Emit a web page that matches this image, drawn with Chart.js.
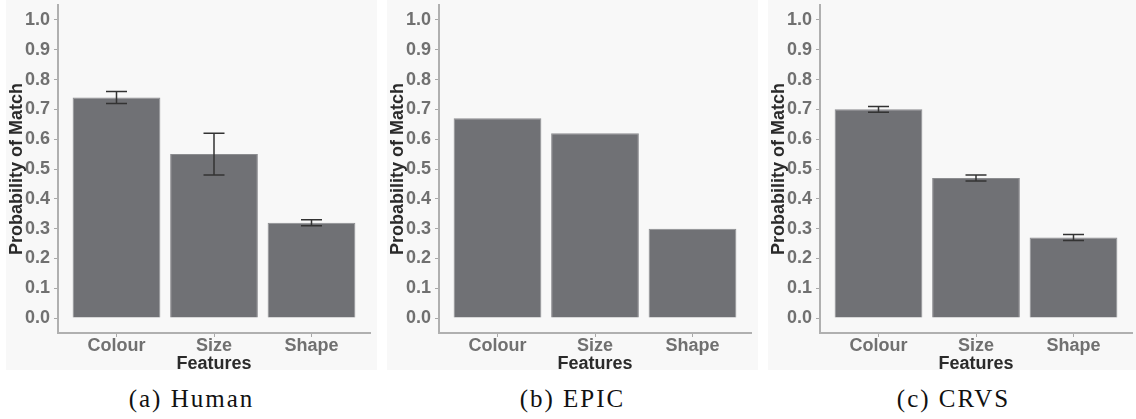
<!DOCTYPE html>
<html>
<head>
<meta charset="utf-8">
<script src="https://cdn.jsdelivr.net/npm/chart.js@4/dist/chart.umd.min.js"></script>
<style>
  body { margin: 0; background: #fff; width: 1136px; height: 419px; overflow: hidden; }
  .panel { position: absolute; top: 0; width: 371px; height: 370px; background: #f8f8f8; }
  .panel canvas { position: absolute; left: 0; top: 0; }
  .caption { position: absolute; top: 385px; width: 371px; text-align: center;
             font-family: "Liberation Serif", serif; font-size: 25px; color: #111; letter-spacing: 2px; }
</style>
</head>
<body>
<div class="panel" style="left:6px"><canvas id="chartHuman" width="371" height="375"></canvas></div>
<div class="panel" style="left:387px"><canvas id="chartEpic" width="371" height="375"></canvas></div>
<div class="panel" style="left:768px"><canvas id="chartCrvs" width="371" height="375"></canvas></div>
<div class="caption" style="left:6px">(a) Human</div>
<div class="caption" style="left:387px">(b) EPIC</div>
<div class="caption" style="left:768px">(c) CRVS</div>

<script>
const features = ['Colour', 'Size', 'Shape'];
const yTicks = [0.0, 0.1, 0.2, 0.3, 0.4, 0.5, 0.6, 0.7, 0.8, 0.9, 1.0];

const humanMean = [0.74, 0.55, 0.32];
const humanLow  = [0.72, 0.48, 0.31];
const humanHigh = [0.76, 0.62, 0.33];

const epicMean = [0.67, 0.62, 0.30];

const crvsMean = [0.70, 0.47, 0.27];
const crvsLow  = [0.69, 0.46, 0.26];
const crvsHigh = [0.71, 0.48, 0.28];

// whiskers with caps, drawn on top of the bars
const errorBars = {
    id: 'errorBars',
    afterDatasetsDraw(chart, args, opts) {
        if (!opts.lower) return;
        const x = chart.scales.x, y = chart.scales.y;
        const ctx = chart.ctx;
        ctx.save();
        ctx.strokeStyle = opts.color;
        ctx.lineWidth = 1.5;
        opts.lower.forEach((lo, i) => {
            const hi = opts.upper[i];
            const px = x.getPixelForValue(i);
            const yLo = y.getPixelForValue(lo), yHi = y.getPixelForValue(hi);
            const half = opts.capWidth / 2;
            ctx.beginPath();
            ctx.moveTo(px, yLo); ctx.lineTo(px, yHi);
            ctx.moveTo(px - half, yLo); ctx.lineTo(px + half, yLo);
            ctx.moveTo(px - half, yHi); ctx.lineTo(px + half, yHi);
            ctx.stroke();
        });
        ctx.restore();
    }
};

const tickFont = { family: '"Liberation Sans", Arial, sans-serif', size: 18, weight: 'bold' };
const titleFont = { family: '"Liberation Sans", Arial, sans-serif', size: 18, weight: 'bold' };

// drop the room Chart.js reserves for edge labels so the plot box stays fixed
function noEdgePadding(s) {
    s.paddingTop = 0; s.paddingBottom = 0;
    s.paddingLeft = 0; s.paddingRight = 0;
}

function makeChart(id, means, low, high) {
    new Chart(document.getElementById(id), {
        type: 'bar',
        data: {
            datasets: [{
                data: means.map((v, i) => ({ x: i, y: v })),
                backgroundColor: '#707175',
                borderColor: '#8c8d90',
                borderWidth: 1,
                categoryPercentage: 1.0,
                barPercentage: 0.9
            }]
        },
        plugins: [errorBars],
        options: {
            responsive: false,
            animation: false,
            layout: { padding: { top: 5, right: 7, left: 0, bottom: 0 } },
            scales: {
                x: {
                    type: 'linear',
                    offset: false,
                    min: -0.6,
                    max: 2.6,
                    afterBuildTicks: s => { s.ticks = features.map((f, i) => ({ value: i })); },
                    afterFit: s => { s.height = 42; noEdgePadding(s); },
                    ticks: {
                        callback: v => features[v],
                        font: tickFont,
                        color: '#707070',
                        padding: -2,
                        autoSkip: false,
                        maxRotation: 0
                    },
                    grid: { display: true, offset: false, drawOnChartArea: false, tickLength: 4, color: '#a8a8a8' },
                    border: { display: true, color: '#b0b0b0', width: 2 },
                    title: { display: true, text: 'Features', font: titleFont, color: '#2a2a2a', padding: 0 }
                },
                y: {
                    min: -0.05,
                    max: 1.05,
                    afterBuildTicks: s => { s.ticks = yTicks.map(v => ({ value: v })); },
                    afterFit: s => { s.width = 52; noEdgePadding(s); },
                    ticks: {
                        callback: v => v.toFixed(1),
                        font: tickFont,
                        color: '#707070',
                        padding: 4
                    },
                    grid: { display: true, drawOnChartArea: false, tickLength: 4, color: '#a8a8a8' },
                    border: { display: true, color: '#b0b0b0', width: 2 },
                    title: { display: true, text: 'Probability of Match', font: titleFont, color: '#2a2a2a', padding: 0 }
                }
            },
            plugins: {
                legend: { display: false },
                tooltip: { enabled: false },
                errorBars: low ? { lower: low, upper: high, capWidth: 21, color: '#333333' } : {}
            }
        }
    });
}

makeChart('chartHuman', humanMean, humanLow, humanHigh);
makeChart('chartEpic', epicMean, null, null);
makeChart('chartCrvs', crvsMean, crvsLow, crvsHigh);
</script>
</body>
</html>
